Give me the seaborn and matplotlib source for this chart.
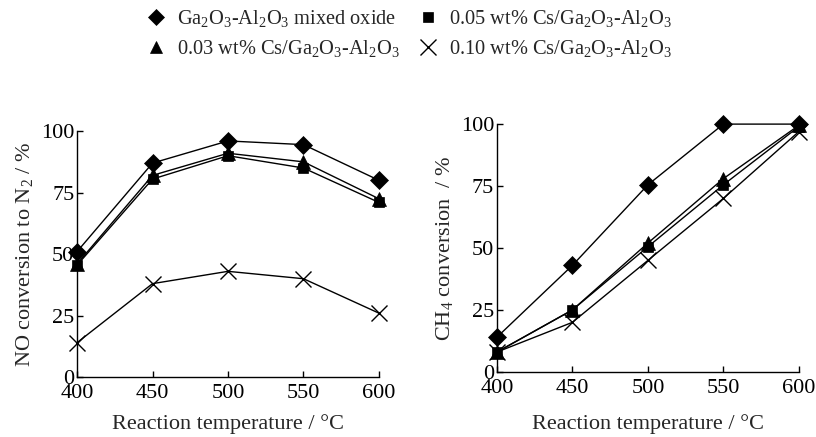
import matplotlib
matplotlib.use("Agg")
import matplotlib.pyplot as plt
import seaborn as sns
import pandas as pd
from matplotlib.lines import Line2D

temps = [400, 450, 500, 550, 600]
series_labels = [
    r"Ga$_2$O$_3$-Al$_2$O$_3$ mixed oxide",
    r"0.03 wt% Cs/Ga$_2$O$_3$-Al$_2$O$_3$",
    r"0.05 wt% Cs/Ga$_2$O$_3$-Al$_2$O$_3$",
    r"0.10 wt% Cs/Ga$_2$O$_3$-Al$_2$O$_3$",
]
no_mixed = [51, 87, 96, 94.5, 80]
no_cs003 = [46, 82, 91, 87.5, 72.5]
no_cs005 = [45.5, 80.5, 90, 85, 71]
no_cs010 = [14, 38, 43, 40, 26]
ch4_mixed = [14, 43, 75.5, 100, 100]
ch4_cs003 = [8, 25, 52, 78, 99.5]
ch4_cs005 = [8, 25, 50.5, 75.5, 99]
ch4_cs010 = [8, 20, 45, 70, 97]
yticks = [0, 25, 50, 75, 100]

markers = ["D", "^", "s", "x"]
msizes = [9, 10, 7.5, 11]

sns.set_theme(style="ticks")
plt.rcParams["font.family"] = ["Liberation Serif", "DejaVu Serif"]
plt.rcParams["mathtext.fontset"] = "custom"
plt.rcParams["mathtext.rm"] = "Liberation Serif"
plt.rcParams["mathtext.it"] = "Liberation Serif:italic"
plt.rcParams["mathtext.bf"] = "Liberation Serif:bold"

fig = plt.figure(figsize=(8.16, 4.37), dpi=100)
ax1 = fig.add_axes([0.0944, 0.137, 0.370, 0.563])
ax2 = fig.add_axes([0.609, 0.149, 0.370, 0.567])

def draw(ax, data, ylabel, xlabelpad):
    for vals, m, ms, lab in zip(data, markers, msizes, series_labels):
        df = pd.DataFrame({"T": temps, "v": vals})
        sns.lineplot(data=df, x="T", y="v", ax=ax, color="black", lw=1.0,
                     marker=m, markersize=ms, markeredgecolor="black",
                     markerfacecolor="black", mew=1.0 if m == "x" else 0.5,
                     clip_on=False, legend=False)
    ax.set_xlim(400, 600)
    ax.set_ylim(0, 100)
    ax.set_xticks(temps)
    ax.set_yticks(yticks)
    ax.tick_params(direction="in", length=4, width=1, labelsize=16, colors="black", pad=2)
    ax.tick_params(axis="x", pad=5)
    for s in ["top", "right"]:
        ax.spines[s].set_visible(False)
    for s in ["left", "bottom"]:
        ax.spines[s].set_color("black")
        ax.spines[s].set_linewidth(1.0)
    ax.set_xlabel("Reaction temperature / °C", fontsize=16, labelpad=xlabelpad)
    ax.set_ylabel(ylabel, fontsize=16, labelpad=4)

draw(ax1, [no_mixed, no_cs003, no_cs005, no_cs010], r"NO conversion to N$_2$ / %", 8)
draw(ax2, [ch4_mixed, ch4_cs003, ch4_cs005, ch4_cs010], r"CH$_4$ conversion  / %", 12)

handles = [Line2D([], [], ls="none", marker=m, markersize=ms, color="black",
                  mew=1.0 if m == "x" else 0.5) for m, ms in zip(markers, [8, 9, 7, 11])]
fig.legend(handles, series_labels, ncol=2, loc="upper center",
           bbox_to_anchor=(0.5, 1.015), frameon=False, fontsize=14.7,
           handletextpad=0.4, columnspacing=0.8, labelspacing=0.45,
           handlelength=1.2, borderpad=0.2)

fig.savefig("out.png", dpi=100)
